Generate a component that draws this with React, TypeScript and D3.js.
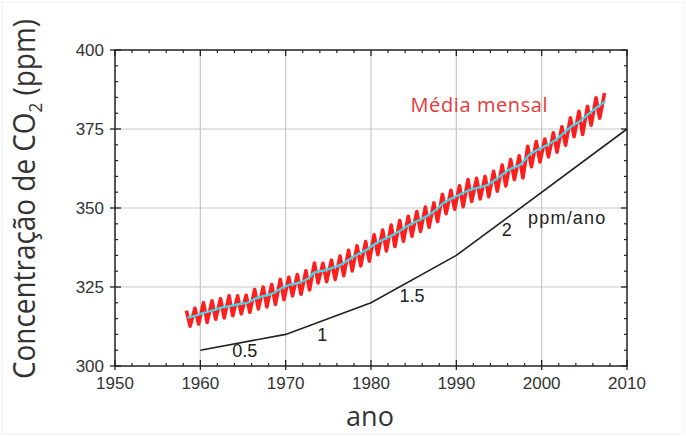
import React from "react";
import * as d3 from "d3";

// annual values (ppm)
const years = d3.range(1958, 2008);
const annualMean = [
  315.3, 316.0, 316.9, 317.6, 318.5, 319.0, 319.6, 320.0, 321.4, 322.2,
  323.0, 324.6, 325.7, 326.3, 327.5, 329.7, 330.2, 331.1, 332.1, 333.8,
  335.4, 336.8, 338.7, 340.1, 341.4, 343.0, 344.6, 346.0, 347.4, 349.2,
  351.6, 353.1, 354.4, 355.6, 356.4, 357.1, 358.8, 360.8, 362.6, 363.7,
  366.7, 368.4, 369.7, 371.3, 373.5, 375.8, 377.5, 379.8, 381.9, 383.8,
];
// seasonal maximum (spring) of each year
const springPeak = [
  317.5, 318.3, 320.0, 320.6, 321.3, 322.2, 322.2, 322.4, 324.2, 325.0,
  325.8, 327.4, 328.1, 328.9, 330.1, 332.6, 332.5, 333.5, 334.8, 336.6,
  338.0, 339.4, 341.5, 343.0, 344.6, 346.0, 347.4, 348.9, 350.3, 351.6,
  354.3, 355.6, 357.0, 359.0, 359.4, 360.0, 361.6, 363.6, 365.3, 366.5,
  369.5, 371.0, 371.8, 373.8, 375.7, 378.5, 380.6, 382.2, 384.9, 386.4,
];
// seasonal minimum (autumn) of each year
const autumnLow = [
  312.6, 313.3, 313.8, 314.8, 315.2, 315.9, 316.5, 317.0, 318.1, 318.7,
  319.5, 321.0, 322.2, 322.7, 324.1, 326.3, 326.7, 327.4, 328.6, 330.1,
  331.7, 333.2, 335.2, 336.4, 337.8, 339.5, 341.1, 342.6, 343.9, 345.7,
  348.2, 349.6, 350.4, 352.1, 352.9, 353.6, 355.3, 357.0, 359.0, 359.5,
  363.1, 364.6, 366.2, 367.7, 369.9, 372.6, 373.3, 376.2, 378.4,
];

// growth-rate reference line
const refYears = [1960, 1970, 1980, 1990, 2010];
const refValues = [305, 310, 320, 335, 375];
const rateLabels = [
  { text: "0.5", year: 1965.2, value: 302.8 },
  { text: "1", year: 1974.3, value: 307.9 },
  { text: "1.5", year: 1984.8, value: 320.3 },
  { text: "2", year: 1995.9, value: 341.1 },
];

const xTicks = [1950, 1960, 1970, 1980, 1990, 2000, 2010];
const yTicks = [300, 325, 350, 375, 400];

const W = 686;
const H = 436;
const margin = { left: 115, right: 59, top: 50, bottom: 70 };

export default function App() {
  const x = d3.scaleLinear().domain([1950, 2010]).range([margin.left, W - margin.right]);
  const y = d3.scaleLinear().domain([300, 400]).range([H - margin.bottom, margin.top]);

  // monthly curve: alternate spring max and autumn min
  const monthly: [number, number][] = [];
  years.forEach((yr, i) => {
    monthly.push([yr + 0.37, springPeak[i]]);
    if (autumnLow[i] !== undefined) monthly.push([yr + 0.8, autumnLow[i]]);
  });
  const mean: [number, number][] = years.map((yr, i) => [yr + 0.5, annualMean[i]]);

  const redPath = d3.line<[number, number]>().x((d) => x(d[0])).y((d) => y(d[1]))(monthly);
  const cyanPath = d3
    .line<[number, number]>()
    .x((d) => x(d[0]))
    .y((d) => y(d[1]))
    .curve(d3.curveMonotoneX)(mean);
  const refPath = d3
    .line<number>()
    .x((d) => x(d))
    .y((d, i) => y(refValues[i]))(refYears);

  const minorX = d3.range(1952, 2010, 2).filter((v) => v % 10 !== 0);
  const minorY = d3.range(305, 400, 5).filter((v) => v % 25 !== 0);
  const x0 = x(1950), x1 = x(2010), y0 = y(300), y1 = y(400);
  const tickFont = "'Liberation Sans', Arial, sans-serif";

  return (
    <svg
      width={W}
      height={H}
      style={{ position: "absolute", left: 0, top: 0, background: "#fff" }}
    >
      <rect x={2} y={2} width={W - 4} height={H - 4} fill="none" stroke="#f0f0f0" />
      {/* grid */}
      {xTicks.slice(1, -1).map((t) => (
        <line key={"gx" + t} x1={x(t)} x2={x(t)} y1={y1} y2={y0} stroke="#c8c8c8" strokeWidth={1.2} />
      ))}
      {yTicks.slice(1, -1).map((t) => (
        <line key={"gy" + t} x1={x0} x2={x1} y1={y(t)} y2={y(t)} stroke="#c8c8c8" strokeWidth={1.2} />
      ))}

      {/* reference line */}
      <path d={refPath ?? ""} fill="none" stroke="#222" strokeWidth={1.6} />

      {/* monthly data */}
      <path d={redPath ?? ""} fill="none" stroke="#ff1e1e" strokeWidth={3.6} strokeLinejoin="round" />
      <path d={cyanPath ?? ""} fill="none" stroke="#40d8ec" strokeWidth={2.2} />

      {/* frame */}
      <rect x={x0} y={y1} width={x1 - x0} height={y0 - y1} fill="none" stroke="#222" strokeWidth={1.5} />
      {xTicks.map((t) => (
        <g key={"tx" + t}>
          <line x1={x(t)} x2={x(t)} y1={y0 - 6} y2={y0 + 4} stroke="#222" strokeWidth={1.3} />
          <line x1={x(t)} x2={x(t)} y1={y1} y2={y1 + 6} stroke="#222" strokeWidth={1.3} />
          <text x={x(t)} y={y0 + 23} textAnchor="middle" fontSize={17} fill="#333" fontFamily={tickFont}>
            {t}
          </text>
        </g>
      ))}
      {minorX.map((t) => (
        <g key={"mx" + t}>
          <line x1={x(t)} x2={x(t)} y1={y0 - 3} y2={y0} stroke="#222" strokeWidth={1.2} />
          <line x1={x(t)} x2={x(t)} y1={y1} y2={y1 + 3} stroke="#222" strokeWidth={1.2} />
        </g>
      ))}
      {yTicks.map((t) => (
        <g key={"ty" + t}>
          <line x1={x0 - 5} x2={x0 + 6} y1={y(t)} y2={y(t)} stroke="#222" strokeWidth={1.3} />
          <line x1={x1 - 6} x2={x1} y1={y(t)} y2={y(t)} stroke="#222" strokeWidth={1.3} />
          <text x={x0 - 11} y={y(t) + 6} textAnchor="end" fontSize={17} fill="#333" fontFamily={tickFont}>
            {t}
          </text>
        </g>
      ))}
      {minorY.map((t) => (
        <g key={"my" + t}>
          <line x1={x0} x2={x0 + 3} y1={y(t)} y2={y(t)} stroke="#222" strokeWidth={1.2} />
          <line x1={x1 - 3} x2={x1} y1={y(t)} y2={y(t)} stroke="#222" strokeWidth={1.2} />
        </g>
      ))}

      {/* rate labels */}
      {rateLabels.map((l) => (
        <text key={l.text} x={x(l.year)} y={y(l.value)} textAnchor="middle" fontSize={18} fill="#222" fontFamily={tickFont}>
          {l.text}
        </text>
      ))}
      <text x={x(2003.0)} y={y(344.9)} textAnchor="middle" fontSize={18} fill="#222" fontFamily={tickFont} letterSpacing={1.2}>
        ppm/ano
      </text>
      <text x={x(1992.7)} y={y(380.4)} textAnchor="middle" fontSize={20} fill="#e83838" fontFamily="'Open Sans', sans-serif" letterSpacing={0.6}>
        Média mensal
      </text>

      {/* axis titles */}
      <text x={370} y={426} textAnchor="middle" fontSize={27} fill="#333" fontFamily="'Open Sans', sans-serif">
        ano
      </text>
      <text
        transform={`translate(35,199) rotate(-90) scale(0.9,1)`}
        textAnchor="middle"
        fontSize={31}
        fill="#333"
        fontFamily="'Open Sans', sans-serif"
      >
        Concentração de CO<tspan fontSize={19} dy={7}>2</tspan>
        <tspan dy={-7}> (ppm)</tspan>
      </text>
    </svg>
  );
}
